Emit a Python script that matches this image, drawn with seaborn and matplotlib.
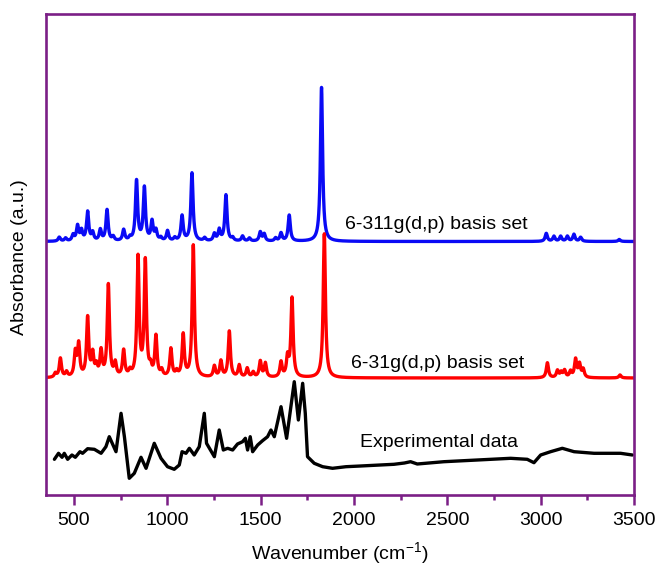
import numpy as np
import pandas as pd
import matplotlib
matplotlib.use("Agg")
import matplotlib.pyplot as plt
from matplotlib.ticker import MultipleLocator
import seaborn as sns

# Calculated vibrational bands: wavenumber (cm^-1) and relative intensity
b3_311_freq = [421, 455, 495, 519, 540, 573, 600, 641, 677, 710, 766, 800, 835, 877,
               918, 939, 965, 1001, 1040, 1079, 1132, 1200, 1252, 1278, 1314, 1350,
               1403, 1440, 1498, 1519, 1580, 1609, 1653, 1826,
               3030, 3071, 3107, 3143, 3178, 3214, 3421]
b3_311_int = [4, 3, 6, 15, 10, 29, 8, 11, 31, 4, 11, 3, 60, 53,
              19, 10, 3, 10, 3, 25, 68, 3, 7, 11, 46, 3,
              5, 3, 9, 7, 3, 8, 26, 154,
              8, 5, 5, 5, 7, 4, 2]

b3_31_freq = [400, 427, 460, 507, 525, 573, 600, 620, 645, 684, 721, 766, 800, 843,
              882, 910, 939, 970, 1019, 1050, 1085, 1139, 1252, 1287, 1332, 1385,
              1428, 1460, 1498, 1525, 1609, 1644, 1668, 1841,
              3036, 3090, 3110, 3128, 3160, 3187, 3208, 3228, 3425]
b3_31_int = [4, 19, 5, 24, 32, 59, 22, 10, 25, 92, 13, 26, 5, 119,
             115, 8, 40, 6, 28, 5, 42, 132, 11, 16, 46, 12,
             9, 5, 16, 14, 15, 19, 79, 144,
             15, 7, 5, 7, 6, 18, 13, 8, 3]

# Measured FT-IR spectrum (wavenumber, absorbance in plot units)
exp_wn = [395, 417, 436, 448, 466, 489, 507, 532, 546, 573, 609, 645, 671, 689,
          725, 752, 770, 796, 823, 859, 886, 930, 966, 1001, 1037, 1064, 1079,
          1100, 1118, 1144, 1171, 1198, 1210, 1252, 1278, 1300, 1323, 1350, 1376,
          1403, 1418, 1430, 1444, 1457, 1484, 1510, 1537, 1555, 1573, 1609, 1639,
          1680, 1702, 1725, 1739, 1751, 1787, 1832, 1885, 1957, 2035, 2214, 2270,
          2303, 2339, 2482, 2661, 2839, 2928, 2964, 3000, 3053, 3116, 3179, 3286,
          3428, 3491]
exp_abs = [40.7, 46.7, 42.7, 46.7, 40.7, 45.0, 42.7, 48.3, 46.7, 51.3, 50.7, 46.7,
           53.3, 63.3, 48.3, 86.7, 63.3, 21.7, 26.7, 42.7, 31.7, 56.7, 41.7, 33.3,
           30.7, 35.0, 48.3, 46.7, 51.7, 45.0, 53.3, 86.7, 56.7, 43.3, 70.0, 50.0,
           51.7, 50.0, 56.0, 58.3, 61.7, 50.0, 63.3, 48.3, 55.0, 59.3, 63.3, 70.0,
           63.3, 93.3, 61.7, 118.3, 80.0, 116.7, 86.7, 43.3, 36.7, 33.3, 31.7, 33.3,
           34.0, 35.7, 37.0, 38.3, 36.0, 38.3, 40.0, 41.7, 40.7, 37.3, 45.0, 48.3,
           51.7, 48.3, 46.7, 46.7, 45.0]

# Vertical offsets of the stacked traces
offset_311 = 258.5
offset_31 = 122.0
hwhm = 7.0  # Lorentzian half-width used to broaden the calculated bands

wn = np.arange(350.0, 3500.5, 0.5)


def broaden(freqs, ints, base):
    f = np.asarray(freqs, float)[:, None]
    a = np.asarray(ints, float)[:, None]
    return base + (a * hwhm**2 / ((wn[None, :] - f) ** 2 + hwhm**2)).sum(axis=0)


df_311 = pd.DataFrame({"wn": wn, "A": broaden(b3_311_freq, b3_311_int, offset_311)})
df_31 = pd.DataFrame({"wn": wn, "A": broaden(b3_31_freq, b3_31_int, offset_31)})
df_exp = pd.DataFrame({"wn": exp_wn, "A": exp_abs})

sns.set_theme(style="white")
plt.rcParams["font.family"] = ["Liberation Sans", "DejaVu Sans"]
plt.rcParams["mathtext.fontset"] = "custom"
plt.rcParams["mathtext.rm"] = "Liberation Sans"
plt.rcParams["mathtext.it"] = "Liberation Sans"
plt.rcParams["text.color"] = "black"
plt.rcParams["axes.labelcolor"] = "black"
plt.rcParams["xtick.labelcolor"] = "black"

frame = "#7B1F86"

fig = plt.figure(figsize=(6.58, 5.68), dpi=100)
ax = fig.add_axes([46 / 658, 73 / 568, 588 / 658, 481 / 568])

line_kw = dict(lw=2.4, solid_joinstyle="round", solid_capstyle="round", ax=ax)
sns.lineplot(data=df_311, x="wn", y="A", color="#0A0AF5", **line_kw)
sns.lineplot(data=df_31, x="wn", y="A", color="#FF0000", **line_kw)
sns.lineplot(data=df_exp, x="wn", y="A", color="#000000", **line_kw)

ax.set_xlim(350, 3500)
ax.set_ylim(5, 486)
ax.set_yticks([])
ax.set_xlabel("")
ax.set_ylabel("")

ax.xaxis.set_major_locator(MultipleLocator(500))
ax.xaxis.set_minor_locator(MultipleLocator(250))
ax.tick_params(axis="x", which="major", direction="out", length=7, width=1.8,
               color=frame, labelsize=14, pad=5, bottom=True, labelcolor="black")
ax.tick_params(axis="x", which="minor", direction="out", length=3.5, width=1.8,
               color=frame, bottom=True)
for s in ax.spines.values():
    s.set_color(frame)
    s.set_linewidth(1.9)

ax.text(1953, 270.6, "6-311g(d,p) basis set", fontsize=14, va="baseline", ha="left")
ax.text(1985, 131.7, "6-31g(d,p) basis set", fontsize=14, va="baseline", ha="left")
ax.text(2032, 52.7, "Experimental data", fontsize=14, va="baseline", ha="left")

fig.text(340 / 658, 1 - 553 / 568, "Wavenumber (cm$^{-1}$)", fontsize=14,
         ha="center", va="center")
fig.text(20 / 658, 1 - 257 / 568, "Absorbance (a.u.)", fontsize=14,
         ha="center", va="center", rotation=90)

fig.savefig("out.png", dpi=100)
